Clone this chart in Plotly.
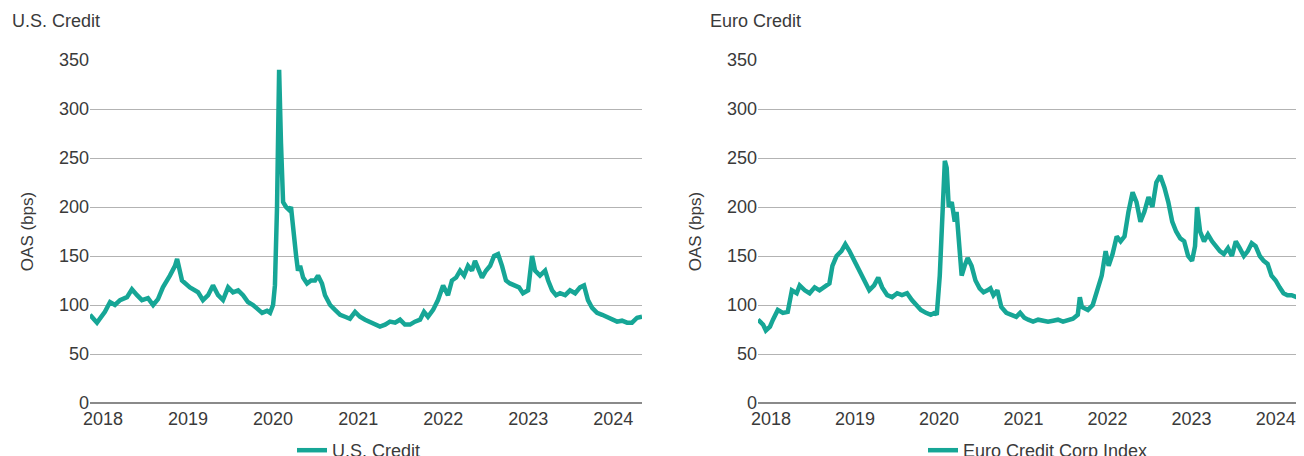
import plotly.graph_objects as go

# ---------------- data ----------------
us_dates = ["2018-01-01","2018-01-31","2018-03-06","2018-03-28","2018-04-18","2018-05-10","2018-06-09","2018-06-30",
 "2018-07-22","2018-08-12","2018-09-07","2018-09-29","2018-10-20","2018-11-10","2018-12-10","2019-01-01","2019-01-10",
 "2019-01-31","2019-03-06","2019-04-10","2019-05-01","2019-05-23","2019-06-13","2019-07-05","2019-07-26","2019-08-17",
 "2019-09-07","2019-09-29","2019-10-20","2019-11-10","2019-12-02","2019-12-23","2020-01-10","2020-01-31","2020-02-13",
 "2020-02-26","2020-03-05","2020-03-14","2020-03-23","2020-03-31","2020-04-09","2020-04-22","2020-05-05","2020-05-13",
 "2020-05-22","2020-06-04","2020-06-12","2020-06-21","2020-07-04","2020-07-21","2020-08-07","2020-08-24","2020-09-06",
 "2020-09-23","2020-10-06","2020-10-28","2020-11-18","2020-12-10","2020-12-31","2021-01-21","2021-02-12","2021-03-05",
 "2021-03-27","2021-04-17","2021-05-09","2021-05-30","2021-06-21","2021-07-12","2021-08-03","2021-08-24","2021-09-14",
 "2021-10-06","2021-10-27","2021-11-18","2021-12-05","2021-12-22","2022-01-13","2022-02-03","2022-02-25","2022-03-18",
 "2022-04-04","2022-04-22","2022-05-09","2022-05-26","2022-06-12","2022-06-29","2022-07-12","2022-07-25","2022-08-11",
 "2022-08-28","2022-09-15","2022-10-02","2022-10-19","2022-11-05","2022-11-22","2022-12-09","2022-12-31","2023-01-17",
 "2023-02-03","2023-02-25","2023-03-14","2023-03-27","2023-04-17","2023-05-09","2023-05-22","2023-06-08","2023-06-25",
 "2023-07-12","2023-08-03","2023-08-24","2023-09-15","2023-10-06","2023-10-23","2023-11-09","2023-11-27","2023-12-18",
 "2024-01-09","2024-01-30","2024-02-20","2024-03-13","2024-04-03","2024-04-25","2024-05-16","2024-06-07","2024-06-28"]
us_oas = [90,82,93,103,100,105,108,116,
 110,105,107,100,106,118,130,140,147,
 125,118,113,105,110,120,110,105,118,
 113,115,110,103,100,95,92,94,92,
 100,120,200,340,265,205,200,197,200,
 175,150,135,140,128,122,125,125,130,
 122,110,100,95,90,88,86,93,88,
 85,83,80,78,80,83,82,85,80,
 80,83,85,93,88,95,105,120,110,
 125,128,135,130,140,135,145,138,128,
 135,140,150,152,140,125,122,120,118,
 112,115,150,135,130,135,125,115,110,
 112,110,115,112,118,120,105,97,92,
 90,88,85,83,84,82,82,87,88]

eu_dates = ["2018-01-01","2018-01-23","2018-02-04","2018-02-22","2018-03-07","2018-03-28","2018-04-19","2018-05-10",
 "2018-05-28","2018-06-18","2018-07-01","2018-07-23","2018-08-13","2018-09-04","2018-09-25","2018-10-17","2018-11-07",
 "2018-11-20","2018-12-08","2018-12-29","2019-01-15","2019-02-02","2019-02-23","2019-03-17","2019-04-07","2019-04-29",
 "2019-05-20","2019-06-07","2019-06-24","2019-07-16","2019-08-06","2019-08-28","2019-09-18","2019-10-10","2019-10-31",
 "2019-11-22","2019-12-09","2019-12-31","2020-01-21","2020-02-08","2020-02-16","2020-02-29","2020-03-13","2020-03-22",
 "2020-03-30","2020-04-08","2020-04-21","2020-05-04","2020-05-12","2020-05-25","2020-06-03","2020-06-16","2020-06-29",
 "2020-07-16","2020-08-02","2020-08-20","2020-09-06","2020-09-23","2020-10-06","2020-10-19","2020-11-05","2020-11-22",
 "2020-12-14","2021-01-05","2021-01-26","2021-02-12","2021-03-02","2021-03-19","2021-04-09","2021-05-01","2021-05-23",
 "2021-06-13","2021-07-05","2021-07-26","2021-08-17","2021-09-07","2021-09-29","2021-10-20","2021-10-29","2021-11-07",
 "2021-12-03","2021-12-24","2022-01-15","2022-02-01","2022-02-18","2022-03-03","2022-03-20","2022-04-07","2022-04-24",
 "2022-05-11","2022-05-28","2022-06-15","2022-07-02","2022-07-19","2022-08-05","2022-08-23","2022-09-09","2022-09-26",
 "2022-10-13","2022-10-31","2022-11-17","2022-12-04","2022-12-21","2023-01-08","2023-01-25","2023-02-11","2023-02-28",
 "2023-03-13","2023-03-22","2023-04-04","2023-04-21","2023-05-08","2023-05-26","2023-06-12","2023-06-29","2023-07-16",
 "2023-08-03","2023-08-20","2023-09-06","2023-09-23","2023-10-11","2023-10-28","2023-11-14","2023-12-01","2023-12-19",
 "2024-01-05","2024-01-22","2024-02-08","2024-02-26","2024-03-14","2024-03-31","2024-04-17","2024-05-05","2024-05-26",
 "2024-06-12","2024-06-28"]
eu_oas = [85,80,74,78,85,95,92,93,
 115,112,120,115,112,118,115,118,122,
 140,150,155,162,155,145,135,123,115,
 120,128,118,110,108,112,110,112,105,
 100,95,92,90,92,90,130,210,247,
 240,200,205,185,195,160,130,140,148,
 140,125,117,113,115,117,110,115,98,
 92,90,88,92,87,85,83,85,84,
 83,84,85,83,85,86,90,108,98,
 95,100,115,130,155,140,152,170,165,
 170,195,215,205,185,195,210,200,225,
 232,220,205,185,175,168,165,150,145,
 160,200,175,165,172,165,160,155,152,
 158,150,165,158,150,155,163,160,150,
 145,142,130,125,118,112,110,110,108,
 108,107]

years = ["2018","2019","2020","2021","2022","2023","2024"]
year_tick_dates = [y + "-02-26" for y in years]
y_ticks = [0, 50, 100, 150, 200, 250, 300, 350]
panel_titles = ["U.S. Credit", "Euro Credit"]
series_names = ["U.S. Credit", "Euro Credit Corp Index"]

# ---------------- style ----------------
OFF = 8                      # page body margin offset
W, H = 1304 - OFF, 456 - OFF
FONT = "Liberation Sans Narrow, Liberation Sans, Arial, sans-serif"
TXT = "#3a3a3a"
TEAL = "#16a696"
GRID = "#b3b3b3"

def px_x(p):
    return (p - OFF) / W

def px_y(p):
    return (H - (p - OFF)) / H

fig = go.Figure()
fig.add_trace(go.Scatter(x=us_dates, y=us_oas, mode="lines", name=series_names[0],
                         line=dict(color=TEAL, width=4.5), xaxis="x", yaxis="y", legend="legend"))
fig.add_trace(go.Scatter(x=eu_dates, y=eu_oas, mode="lines", name=series_names[1],
                         line=dict(color=TEAL, width=4.5), xaxis="x2", yaxis="y2", legend="legend2"))

xcommon = dict(type="date", range=["2018-01-01", "2024-06-28"], tickvals=year_tick_dates, ticktext=years,
               showgrid=False, zeroline=False, showline=False, ticks="", ticklabelstandoff=3,
               tickfont=dict(family=FONT, size=18, color=TXT), fixedrange=True, automargin=False)
ycommon = dict(range=[0, 350], tickvals=y_ticks, showgrid=True, gridcolor=GRID, gridwidth=1,
               zeroline=True, zerolinecolor="#8a8a8a", zerolinewidth=1.5, showline=False, ticks="",
               tickfont=dict(family=FONT, size=18, color=TXT), automargin=False,
               title=dict(text="OAS (bps)", font=dict(family=FONT, size=17, color=TXT), standoff=21),
               fixedrange=True)

fig.update_layout(
    width=W, height=H, autosize=False,
    margin=dict(l=0, r=0, t=0, b=0, pad=0, autoexpand=False),
    paper_bgcolor="white", plot_bgcolor="white",
    font=dict(family=FONT, color=TXT),
    xaxis=dict(domain=[px_x(90), px_x(642)], anchor="y", **xcommon),
    yaxis=dict(domain=[px_y(403), px_y(60)], anchor="x", **ycommon),
    xaxis2=dict(domain=[px_x(758), 1.0], anchor="y2", **xcommon),
    yaxis2=dict(domain=[px_y(403), px_y(60)], anchor="x2", **ycommon),
    showlegend=True,
    legend=dict(x=px_x(292), y=px_y(432), xanchor="left", yanchor="top", orientation="h",
                font=dict(family=FONT, size=18, color=TXT), bgcolor="rgba(0,0,0,0)"),
    legend2=dict(x=px_x(923), y=px_y(432), xanchor="left", yanchor="top", orientation="h",
                 font=dict(family=FONT, size=18, color=TXT), bgcolor="rgba(0,0,0,0)"),
    annotations=[
        dict(text=panel_titles[0], x=px_x(10), y=px_y(21), xref="paper", yref="paper",
             xanchor="left", yanchor="middle", showarrow=False, font=dict(family=FONT, size=18, color=TXT)),
        dict(text=panel_titles[1], x=px_x(708), y=px_y(21), xref="paper", yref="paper",
             xanchor="left", yanchor="middle", showarrow=False, font=dict(family=FONT, size=18, color=TXT)),
    ],
)

fig.write_html("out.html")
